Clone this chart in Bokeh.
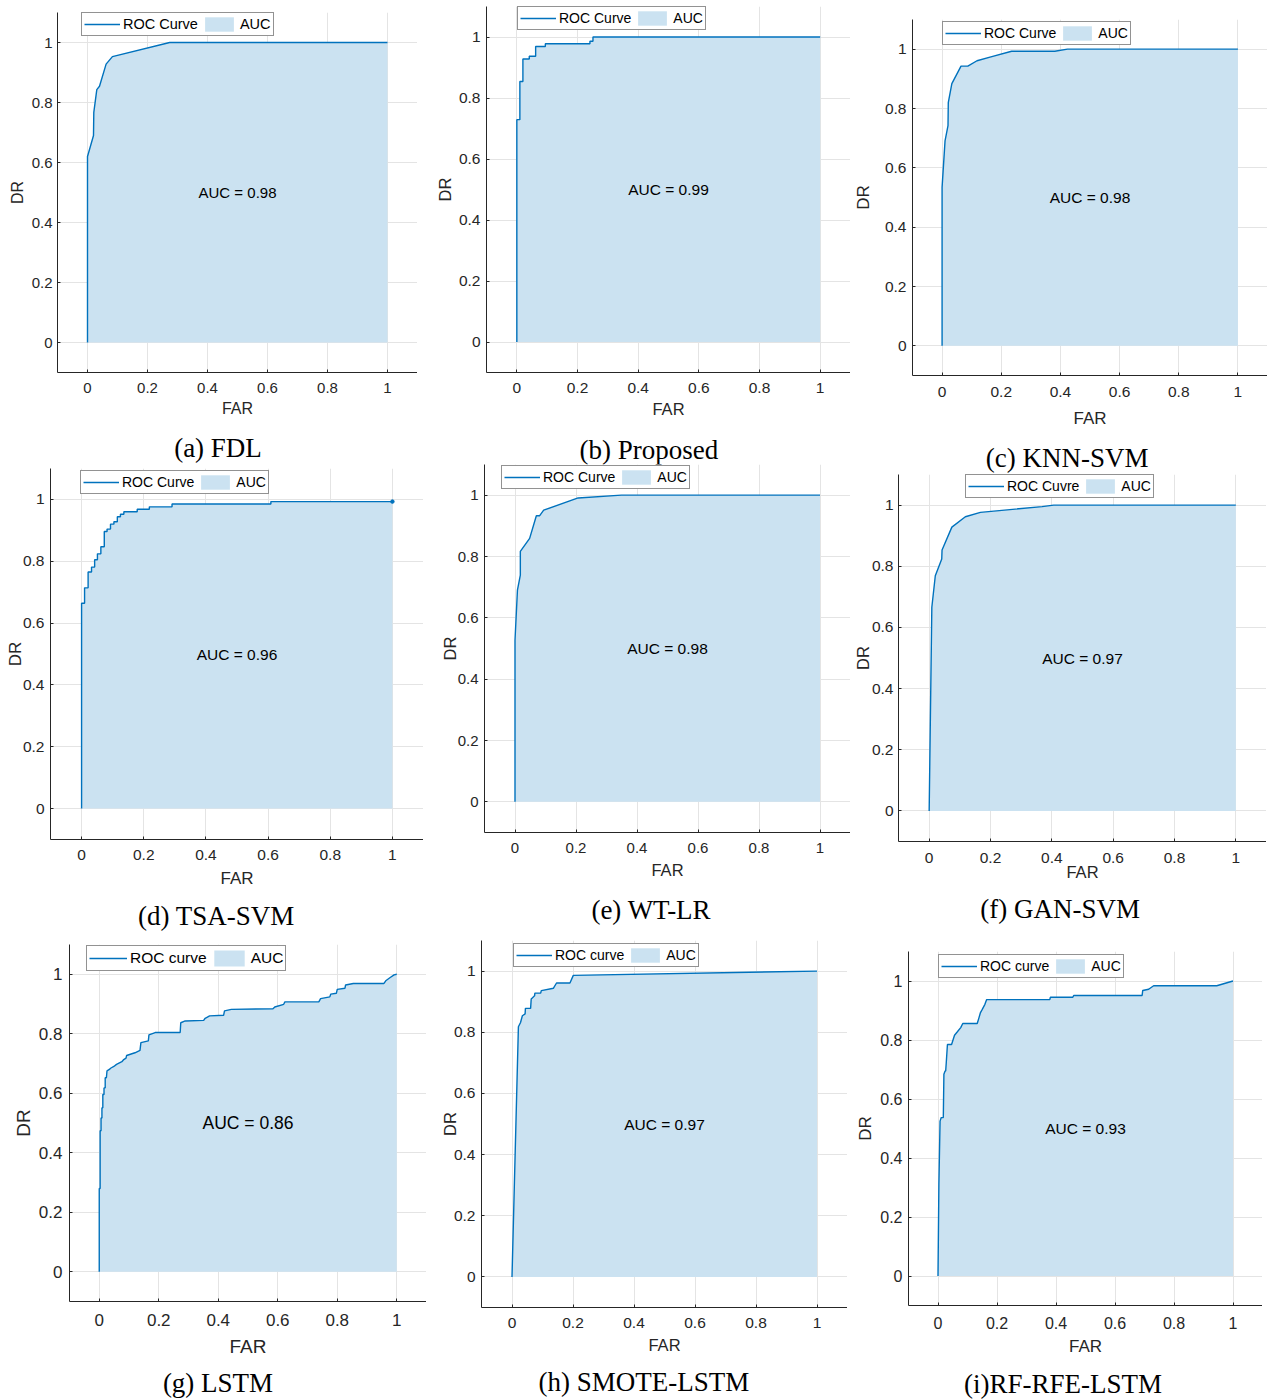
import math
from bokeh.plotting import figure
from bokeh.models import (Range1d, FixedTicker, Label, Legend, LegendItem, Title,
                          LinearAxis, Spacer)
from bokeh.layouts import row, column
from bokeh.embed import file_html
from bokeh.resources import INLINE

# ---------------- data ----------------
TICKS = [0, 0.2, 0.4, 0.6, 0.8, 1]
TICK_LABELS = ["0", "0.2", "0.4", "0.6", "0.8", "1"]

fdl_far = [0, 0, 0.02, 0.021, 0.031, 0.04, 0.062, 0.083, 0.274, 1.0]
fdl_dr = [0, 0.62, 0.69, 0.767, 0.843, 0.854, 0.928, 0.953, 1.0, 1.0]

prop_far = [0, 0, 0.01, 0.01, 0.02, 0.02, 0.041, 0.041, 0.062, 0.062, 0.094, 0.094,
            0.241, 0.241, 0.251, 0.251, 1.0]
prop_dr = [0, 0.729, 0.729, 0.854, 0.854, 0.928, 0.928, 0.937, 0.937, 0.969, 0.969, 0.978,
           0.978, 0.986, 0.986, 1.0, 1.0]

knn_far = [0, 0, 0.01, 0.02, 0.021, 0.033, 0.064, 0.087, 0.118, 0.165, 0.235, 0.381, 0.424, 1.0]
knn_dr = [0, 0.534, 0.691, 0.742, 0.82, 0.884, 0.943, 0.943, 0.961, 0.974, 0.993, 0.993, 1.0, 1.0]

tsa_far = [0, 0, 0.0096, 0.0096, 0.021, 0.021, 0.032, 0.032, 0.042, 0.042, 0.051, 0.051,
           0.062, 0.062, 0.073, 0.073, 0.082, 0.082, 0.093, 0.093, 0.104, 0.104, 0.115, 0.115,
           0.125, 0.125, 0.136, 0.136, 0.179, 0.179, 0.218, 0.218, 0.291, 0.291, 0.609, 0.609, 1.0]
tsa_dr = [0, 0.664, 0.664, 0.714, 0.714, 0.765, 0.765, 0.781, 0.781, 0.805, 0.805, 0.824,
          0.824, 0.847, 0.847, 0.896, 0.896, 0.904, 0.904, 0.92, 0.92, 0.928, 0.928, 0.944,
          0.944, 0.952, 0.952, 0.96, 0.96, 0.968, 0.968, 0.976, 0.976, 0.985, 0.985, 0.993, 0.993]

wt_far = [0, 0, 0.008, 0.0175, 0.0175, 0.048, 0.07, 0.081, 0.094, 0.207, 0.349, 1.0]
wt_dr = [0, 0.527, 0.69, 0.739, 0.817, 0.859, 0.933, 0.933, 0.951, 0.991, 1.0, 1.0]

gan_far = [0, 0.0087, 0.02, 0.041, 0.042, 0.074, 0.118, 0.167, 0.368, 0.406, 1.0]
gan_dr = [0, 0.666, 0.769, 0.824, 0.853, 0.928, 0.962, 0.976, 0.995, 1.0, 1.0]

lstm_far = [0, 0, 0.003, 0.003, 0.006, 0.006, 0.009, 0.009, 0.012, 0.012,
            0.016, 0.016, 0.02, 0.02, 0.024, 0.026, 0.034, 0.038, 0.049, 0.058,
            0.076, 0.081, 0.09, 0.092, 0.12, 0.137, 0.14, 0.165, 0.167, 0.188,
            0.272, 0.274, 0.289, 0.351, 0.356, 0.371, 0.418, 0.421, 0.444, 0.584,
            0.59, 0.62, 0.624, 0.738, 0.744, 0.775, 0.778, 0.797, 0.8, 0.826,
            0.828, 0.854, 0.957, 0.963, 0.978, 0.991, 1.0]
lstm_dr = [0, 0.28, 0.28, 0.474, 0.474, 0.517, 0.517, 0.551, 0.551, 0.596,
           0.596, 0.618, 0.618, 0.652, 0.652, 0.675, 0.68, 0.684, 0.69, 0.697,
           0.706, 0.712, 0.718, 0.727, 0.736, 0.744, 0.77, 0.776, 0.796, 0.804,
           0.804, 0.837, 0.843, 0.845, 0.852, 0.86, 0.862, 0.877, 0.882, 0.884,
           0.89, 0.899, 0.907, 0.907, 0.918, 0.924, 0.933, 0.936, 0.949, 0.953,
           0.964, 0.969, 0.969, 0.978, 0.989, 0.998, 1.0]

smote_far = [0, 0.021, 0.028, 0.034, 0.043, 0.044, 0.061, 0.063, 0.074, 0.075, 0.094, 0.096,
             0.136, 0.146, 0.19, 0.201, 1.0]
smote_dr = [0, 0.818, 0.832, 0.854, 0.86, 0.878, 0.878, 0.909, 0.919, 0.928, 0.928, 0.936,
            0.944, 0.961, 0.961, 0.986, 1.0]

rf_far = [0, 0.003, 0.007, 0.011, 0.018, 0.02, 0.024, 0.026, 0.028, 0.032, 0.046, 0.056,
          0.065, 0.077, 0.084, 0.133, 0.139, 0.144, 0.15, 0.159, 0.165, 0.379, 0.381, 0.457,
          0.46, 0.692, 0.694, 0.714, 0.731, 0.945, 1.0]
rf_dr = [0, 0.31, 0.525, 0.537, 0.537, 0.684, 0.695, 0.695, 0.723, 0.785, 0.785, 0.816,
         0.827, 0.842, 0.856, 0.856, 0.876, 0.893, 0.904, 0.921, 0.937, 0.937, 0.945, 0.945,
         0.951, 0.951, 0.968, 0.972, 0.984, 0.984, 1.0]

captions = ["(a) FDL", "(b) Proposed", "(c) KNN-SVM", "(d) TSA-SVM", "(e) WT-LR",
            "(f) GAN-SVM", "(g) LSTM", "(h) SMOTE-LSTM", "(i)RF-RFE-LSTM"]
auc_texts = ["AUC = 0.98", "AUC = 0.99", "AUC = 0.98", "AUC = 0.96", "AUC = 0.98",
             "AUC = 0.97", "AUC = 0.86", "AUC = 0.97", "AUC = 0.93"]
roc_labels = ["ROC Curve", "ROC Curve", "ROC Curve", "ROC Curve", "ROC Curve",
              "ROC Cuvre", "ROC curve", "ROC curve", "ROC curve"]
series = [(fdl_far, fdl_dr), (prop_far, prop_dr), (knn_far, knn_dr), (tsa_far, tsa_dr),
          (wt_far, wt_dr), (gan_far, gan_dr), (lstm_far, lstm_dr), (smote_far, smote_dr),
          (rf_far, rf_dr)]

# ---------------- layout / style (page pixel geometry) ----------------
BLUE = "#0072BD"
FILL = "#cbe2f1"
AX = "#262626"
SANS = "Liberation Sans"
SERIF = "Liberation Serif"
CAP_PX = 27

SERIF_W = {'(': 333, ')': 333, ' ': 250, 'a': 444, 'b': 500, 'c': 444, 'd': 500, 'e': 444,
           'f': 333, 'g': 500, 'h': 500, 'i': 278, 'F': 556, 'D': 722, 'L': 611, 'P': 556,
           'r': 333, 'o': 500, 'p': 500, 's': 389, 'K': 722, 'N': 722, 'S': 556, 'V': 722,
           'M': 889, 'T': 611, 'A': 722, 'W': 944, 'R': 667, 'G': 722, 'E': 611, 'O': 722,
           '-': 333}

# slot: (x, y, w, h); frame: (left, top, right, bottom); dr: centre x of the "DR" label;
# leg: legend top-left; cap: caption centre   (all page pixels)
geo = [
    dict(slot=(0, 0, 432, 461), frame=(57, 12, 417, 372), dr=17.5, leg=(81, 14), cap=(217.5, 448)),
    dict(slot=(432, 0, 418, 463), frame=(486, 6, 850, 372), dr=445, leg=(517, 8), cap=(648.3, 450)),
    dict(slot=(850, 0, 422, 471), frame=(912, 19, 1267, 375), dr=861.7, leg=(942, 23), cap=(1066.7, 457.5)),
    dict(slot=(0, 461, 432, 473), frame=(50, 468, 423, 839), dr=15, leg=(80, 472), cap=(215.8, 915.8)),
    dict(slot=(432, 463, 418, 472), frame=(484, 464, 850, 832), dr=450, leg=(501, 467), cap=(652, 910)),
    dict(slot=(850, 471, 422, 475), frame=(898, 474, 1266, 841), dr=858.3, leg=(965, 476), cap=(1059.7, 909.2)),
    dict(slot=(0, 934, 432, 466), frame=(69, 944, 426, 1301), dr=22.7, leg=(86, 947), cap=(217.5, 1382)),
    dict(slot=(432, 935, 418, 465), frame=(481, 940, 847, 1307), dr=450, leg=(513, 945), cap=(643.3, 1382)),
    dict(slot=(850, 946, 422, 454), frame=(908, 951, 1262, 1305), dr=866.7, leg=(938, 956), cap=(1062.5, 1382)),
]
# fonts: tick, axis label, auc text, legend
fonts = [(15, 16, 15, 14.5), (15.5, 16.5, 15.5, 14), (15.5, 17, 15.5, 14),
         (15.5, 17, 15.5, 14), (15, 16.5, 15.5, 14), (15.5, 16.5, 15.5, 14),
         (17, 19, 17.5, 15.5), (15.5, 16.5, 15.5, 14), (16, 17, 15.5, 14)]
# standoffs: x tick, x label, y tick
stand = [(10, 4, 5), (10, 4, 6), (11, 9, 6), (10, 6, 6), (10, 5, 6),
         (11, -3, 5), (12, 7, 7), (10, 5, 6), (11, 5, 6)]


def make_panel(i):
    g = geo[i]
    sx, sy, sw, sh = g["slot"]
    fl, ft, fr, fb = g["frame"]
    fw, fh = fr - fl, fb - ft
    tf, lf, af, gf = fonts[i]
    xms, xls, yms = stand[i]
    far, dr = series[i]

    # y axis: label extent = width of "DR"; place it so its centre matches
    tick_w = 1.39 * tf
    lab_w = 1.444 * lf
    r_right = g["dr"] + 0.722 * lf - 0.7
    figl = max(sx, int(math.floor(r_right - lab_w)))
    bl = fl - figl
    yls = int(math.floor(bl - yms - tick_w - lab_w))

    p = figure(frame_width=fw, frame_height=fh,
               x_range=Range1d(-0.1, 1.1), y_range=Range1d(-0.1, 1.1),
               min_border_left=bl, min_border_right=0, min_border_top=0, min_border_bottom=0,
               output_backend="svg", toolbar_location=None, tools="")
    p.outline_line_color = None
    p.background_fill_color = "white"
    p.border_fill_color = None

    for ax, ms, ls, lab in ((p.xaxis[0], xms, xls, "FAR"), (p.yaxis[0], yms, yls, "DR")):
        ax.ticker = FixedTicker(ticks=TICKS)
        ax.major_label_overrides = {t: s for t, s in zip(TICKS, TICK_LABELS)}
        ax.axis_label = lab
        ax.axis_label_text_font = SANS
        ax.axis_label_text_font_style = "normal"
        ax.axis_label_text_font_size = f"{lf}px"
        ax.axis_label_text_color = AX
        ax.axis_label_standoff = ls
        ax.major_label_text_font = SANS
        ax.major_label_text_font_size = f"{tf}px"
        ax.major_label_text_color = AX
        ax.major_label_standoff = ms
        ax.axis_line_color = AX
        ax.axis_line_width = 1
        ax.major_tick_line_color = AX
        ax.major_tick_in = 3
        ax.major_tick_out = 0
        ax.minor_tick_line_color = None
        ax.minor_tick_out = 0
    p.yaxis[0].major_label_orientation = "horizontal"

    for gr in (p.xgrid[0], p.ygrid[0]):
        gr.grid_line_color = "#e4e4e4"
        gr.grid_line_width = 1

    r_area = p.varea(x=far, y1=0, y2=dr, fill_color=FILL, fill_alpha=1)
    r_line = p.line(far, dr, line_color=BLUE, line_width=1.4)
    if i == 3:
        p.scatter(far[-1:], dr[-1:], size=3.5, color=BLUE)

    glyph_h = 20 if i == 6 else 18
    pad = 2
    lh = glyph_h + 2 * pad
    lx = g["leg"][0] - fl
    ly = fh - (g["leg"][1] - ft) - lh
    leg = Legend(items=[LegendItem(label=roc_labels[i], renderers=[r_line]),
                        LegendItem(label="AUC", renderers=[r_area])],
                 orientation="horizontal", location=(lx, ly), margin=0, padding=pad,
                 spacing=3, glyph_width=38 if i == 6 else 36, glyph_height=glyph_h,
                 label_height=glyph_h, label_standoff=3,
                 label_text_font=SANS, label_text_font_size=f"{gf}px", label_text_color="black",
                 border_line_color=AX, border_line_width=1, background_fill_color="white",
                 background_fill_alpha=1)
    p.add_layout(leg)

    p.add_layout(Label(x=0.5, y=0.5, text=auc_texts[i], text_align="center",
                       text_baseline="middle", text_font=SANS, text_font_size=f"{af}px",
                       text_color="black"))

    # caption below the axis: an invisible spacer axis, then a title
    cx, cy = g["cap"]
    axis_h = xms + 1.04 * tf + xls + 1.04 * lf
    gap = int(round(cy - 17 - fb - axis_h))
    if gap > 0:
        sp = LinearAxis(ticker=FixedTicker(ticks=[-0.1]), major_label_overrides={-0.1: ""},
                        axis_line_color=None, major_tick_line_color="white",
                        minor_tick_line_color=None, major_tick_in=0, major_tick_out=gap,
                        minor_tick_in=0, minor_tick_out=0, major_label_standoff=0,
                        major_label_text_font_size="1px")
        p.add_layout(sp, "below")
    text_w = sum(SERIF_W.get(ch, 500) for ch in captions[i]) / 1000 * CAP_PX
    p.add_layout(Title(text=captions[i], align="left", offset=cx - fl - text_w / 2,
                       vertical_align="top", standoff=0, text_font=SERIF,
                       text_font_size=f"{CAP_PX}px", text_font_style="normal",
                       text_color="black"), "below")

    dl = figl - sx
    dt = ft - sy
    inner = row(Spacer(width=dl), p) if dl > 0 else row(p)
    kids = ([Spacer(height=dt)] if dt > 0 else []) + [inner]
    return column(*kids, width=sw, height=sh)


slots = [make_panel(i) for i in range(9)]
layout = row(column(slots[0], slots[3], slots[6]),
             column(slots[1], slots[4], slots[7]),
             column(slots[2], slots[5], slots[8]))

open("out.html", "w").write(file_html(layout, INLINE))
